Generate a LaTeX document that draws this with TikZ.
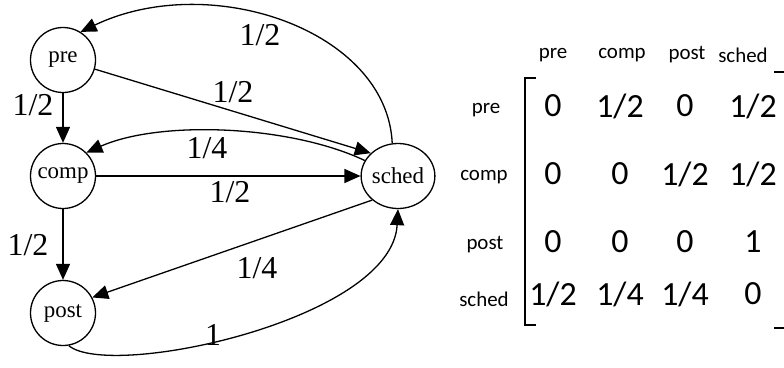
\documentclass[tikz,border=0pt]{standalone}
\usepackage{fontspec}
\setmainfont{Liberation Serif}
\newfontfamily\calib{Carlito}
\usetikzlibrary{arrows.meta,shapes.geometric}
\tikzset{
  state/.style={draw, circle, line width=1.3bp, minimum size=65bp, inner sep=0pt,
    font=\fontsize{23}{25}\selectfont},
  arr/.style={line width=1.3bp, -{Triangle[length=16bp,width=14bp]}},
  elab/.style={inner sep=0pt, font=\fontsize{32}{34}\selectfont},
  hdr/.style={inner sep=0pt, font=\calib\fontsize{21}{24}\selectfont},
  val/.style={inner sep=0pt, font=\calib\fontsize{34}{38}\selectfont},
  brk/.style={line width=1.5bp}
}
\begin{document}
\begin{tikzpicture}[x=1bp,y=-1bp]
\useasboundingbox (0,0) rectangle (784,367);
% graph nodes
\node[state] (pre) at (63,60) {pre};
\node[state] (comp) at (63,176) {comp};
\node[state] (post) at (63,313) {post};
\node[state, ellipse, minimum width=72bp, minimum height=65bp] (sched) at (398,176) {sched};
% edges
\draw[arr] (sched.100) .. controls (387,30) and (210,-30) .. (pre.58);
\draw[arr] (pre.-16) -- (sched.140);
\draw[arr] (pre.south) -- (comp.north);
\draw[arr] (sched.155) .. controls (290,125) and (160,120) .. (comp.45);
\draw[arr] (comp.east) -- (sched.west);
\draw[arr] (comp.south) -- (post.north);
\draw[arr] (sched.-137) -- (post.28);
\draw[arr] (post.-80) .. controls (110,380) and (392,320) .. (sched.south);
% edge labels
\node[elab] (l1) at (260,35) {1/2};
\node[elab] (l2) at (233,92) {1/2};
\node[elab] (l3) at (33,105) {1/2};
\node[elab] (l4) at (207,148) {1/4};
\node[elab] (l5) at (230,192) {1/2};
\node[elab] (l6) at (28,245) {1/2};
\node[elab] (l7) at (257,268) {1/4};
\node[elab] (l8) at (213,335) {1};
% matrix headers
\node[hdr] (h1) at (553,55) {pre};
\node[hdr] (h2) at (622,55) {comp};
\node[hdr] (h3) at (687,55) {post};
\node[hdr] (h4) at (743,55) {sched};
% row labels
\node[hdr] (r1) at (486,110) {pre};
\node[hdr] (r2) at (484,177) {comp};
\node[hdr] (r3) at (485,245) {post};
\node[hdr] (r4) at (484,299) {sched};
% values
\node[val] (m11) at (553,106) {0};
\node[val] (m12) at (620,106) {1/2};
\node[val] (m13) at (685,106) {0};
\node[val] (m14) at (753,106) {1/2};
\node[val] (m21) at (553,174) {0};
\node[val] (m22) at (620,174) {0};
\node[val] (m23) at (685,174) {1/2};
\node[val] (m24) at (753,174) {1/2};
\node[val] (m31) at (553,242) {0};
\node[val] (m32) at (620,242) {0};
\node[val] (m33) at (685,242) {0};
\node[val] (m34) at (753,242) {1};
\node[val] (m41) at (553,294) {1/2};
\node[val] (m42) at (620,294) {1/4};
\node[val] (m43) at (685,294) {1/4};
\node[val] (m44) at (753,294) {0};
% brackets
\draw[brk] (536,78) -- (525,78) -- (525,325) -- (536,325);
\draw[brk] (774,72) -- (787,72) -- (787,328) -- (774,328);
\end{tikzpicture}
\end{document}
